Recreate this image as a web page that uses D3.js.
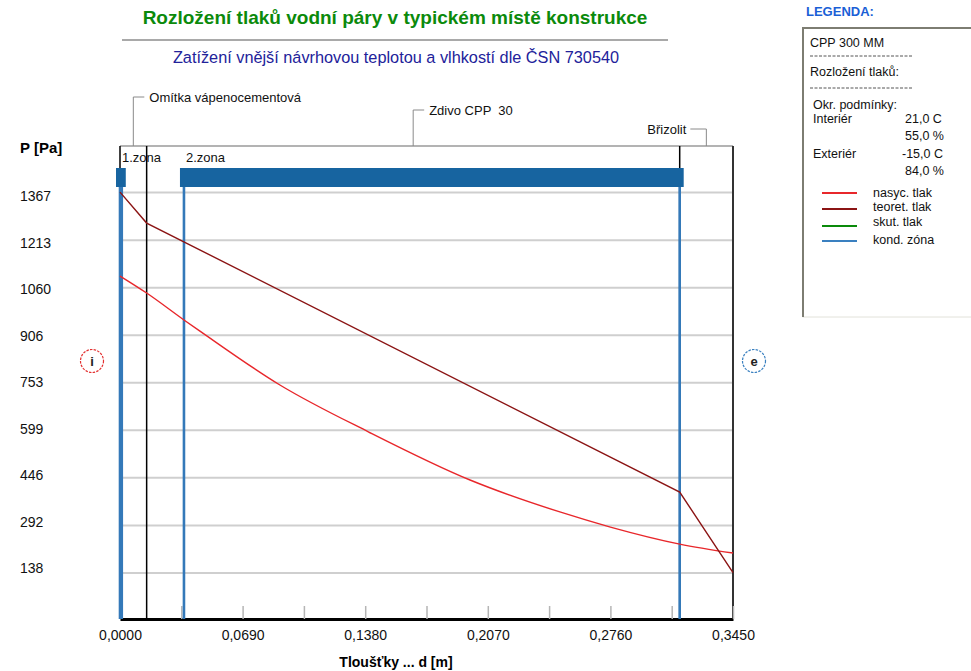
<!DOCTYPE html>
<html>
<head>
<meta charset="utf-8">
<script src="https://cdn.jsdelivr.net/npm/d3@7"></script>
<style>
  body { margin: 0; background: #fff; }
  svg { font-family: "Liberation Sans", Arial, sans-serif; }
</style>
</head>
<body>
<div id="chart"></div>
<script>
// Data
var layerNames = ["Omítka vápenocementová", "Zdivo CPP  30", "Břizolit"];
var layerBounds = [0, 0.015, 0.315, 0.345];

var zoneNames = ["1.zona", "2.zona"];
var zoneStart = [0, 0.036];
var zoneEnd = [0.001, 0.315];

// nasyc. tlak (saturated pressure)
var satX = [0, 0.015, 0.036, 0.045, 0.090, 0.140, 0.197, 0.248, 0.276, 0.315, 0.345];
var satP = [1096, 1041, 954, 918, 744, 592, 437, 333, 285, 230, 201];

// teoret. tlak (theoretical partial pressure)
var teoX = [0, 0.015, 0.315, 0.345];
var teoP = [1367, 1267, 398, 138];

var yTicks = [138, 292, 446, 599, 753, 906, 1060, 1213, 1367];
var xTicks = [0, 0.0345, 0.069, 0.1035, 0.138, 0.1725, 0.207, 0.2415, 0.276, 0.3105, 0.345];

var legendNames = ["nasyc. tlak", "teoret. tlak", "skut. tlak", "kond. zóna"];
var legendColors = ["#e8272b", "#8b1414", "#0a8a0a", "#3a80c0"];

var svgWidth = 971;
var svgHeight = 671;

var svg = d3.select("#chart")
  .append("svg")
  .attr("width", svgWidth)
  .attr("height", svgHeight);

// plot area
var pLeft = 120, pRight = 733, pTop = 146, pBottom = 619;

var xScale = d3.scaleLinear()
  .domain([0, 0.345])
  .range([pLeft, pRight]);

var yScale = d3.scaleLinear()
  .domain([-12, 1516])
  .range([pBottom, pTop]);

// the program places the value labels on a slightly tighter grid
var yLabelScale = d3.scaleLinear()
  .domain([138, 1367])
  .range([568, 196]);

// Titles
svg.append("text")
  .attr("x", 395).attr("y", 24)
  .attr("text-anchor", "middle")
  .style("font-size", "19px")
  .style("font-weight", "bold")
  .attr("fill", "#0b8a0b")
  .text("Rozložení tlaků vodní páry v typickém místě konstrukce");

svg.append("line")
  .attr("x1", 122).attr("x2", 668)
  .attr("y1", 40).attr("y2", 40)
  .attr("stroke", "#8c8c8c")
  .attr("stroke-width", 1.5);

svg.append("text")
  .attr("x", 396).attr("y", 63)
  .attr("text-anchor", "middle")
  .style("font-size", "16.3px")
  .attr("fill", "#22229a")
  .text("Zatížení vnější návrhovou teplotou a vlhkostí dle ČSN 730540");

// Grid + y labels
var leftAxis = d3.axisLeft(yScale)
  .tickValues(yTicks)
  .tickSize(-(pRight - pLeft))
  .tickFormat(d3.format("d"));

var yAxisG = svg.append("g")
  .attr("transform", `translate(${pLeft}, 0)`)
  .call(leftAxis);

yAxisG.select(".domain").remove();
yAxisG.selectAll(".tick line")
  .attr("stroke", "#cfcfcf")
  .attr("stroke-width", 2);
yAxisG.selectAll(".tick text")
  .attr("x", 20 - pLeft)
  .attr("y", d => yLabelScale(d) - yScale(d))
  .attr("dy", "0.35em")
  .attr("text-anchor", "start")
  .attr("fill", "#111")
  .style("font-size", "14px");

svg.append("text")
  .attr("x", 20).attr("y", 153)
  .style("font-size", "15px")
  .style("font-weight", "bold")
  .text("P [Pa]");

// top border and right border
svg.append("line")
  .attr("x1", pLeft).attr("x2", pRight)
  .attr("y1", pTop).attr("y2", pTop)
  .attr("stroke", "#9a9a9a")
  .attr("stroke-width", 1.5);

svg.append("line")
  .attr("x1", pRight).attr("x2", pRight)
  .attr("y1", pTop).attr("y2", pBottom)
  .attr("stroke", "#333")
  .attr("stroke-width", 2);

// Bottom axis
var bottomAxis = d3.axisBottom(xScale)
  .tickValues(xTicks)
  .tickSizeInner(-13)
  .tickSizeOuter(0)
  .tickPadding(11)
  .tickFormat(function(d, i) {
    return i % 2 === 0 ? d3.format(".4f")(d).replace(".", ",") : "";
  });

var xAxisG = svg.append("g")
  .attr("transform", `translate(0, ${pBottom})`)
  .call(bottomAxis);

xAxisG.select(".domain")
  .attr("stroke", "#000")
  .attr("stroke-width", 3);
xAxisG.selectAll(".tick line")
  .attr("stroke", "#b5b5b5")
  .attr("stroke-width", 1.5);
xAxisG.selectAll(".tick text")
  .attr("fill", "#111")
  .style("font-size", "14px");

svg.append("text")
  .attr("x", 396).attr("y", 667)
  .attr("text-anchor", "middle")
  .style("font-size", "14px")
  .style("font-weight", "bold")
  .text("Tloušťky ... d [m]");

// Layer boundaries
svg.selectAll(".layerline")
  .data(layerBounds.slice(0, 3))
  .enter()
  .append("line")
  .attr("class", "layerline")
  .attr("x1", d => xScale(d)).attr("x2", d => xScale(d))
  .attr("y1", pTop).attr("y2", pBottom)
  .attr("stroke", "#000")
  .attr("stroke-width", 1.5);

// Layer labels with leaders
var labelY = [97, 110, 129];
layerNames.forEach(function(name, i) {
  var mid = xScale((layerBounds[i] + layerBounds[i + 1]) / 2);
  var toLeft = i === layerNames.length - 1;
  var hx = toLeft ? mid - 16 : mid + 11;
  svg.append("path")
    .attr("d", `M${mid},${pTop} V${labelY[i]} H${hx}`)
    .attr("fill", "none")
    .attr("stroke", "#8a8a8a")
    .attr("stroke-width", 1);
  svg.append("text")
    .attr("x", toLeft ? hx - 4 : hx + 5)
    .attr("y", labelY[i])
    .attr("dy", "0.35em")
    .attr("text-anchor", toLeft ? "end" : "start")
    .style("font-size", "13px")
    .style("white-space", "pre")
    .attr("fill", "#111")
    .text(name);
});

// Condensation zones
zoneNames.forEach(function(name, i) {
  var x1 = xScale(zoneStart[i]), x2 = xScale(zoneEnd[i]);
  svg.append("rect")
    .attr("x", x1 - 4).attr("y", 168)
    .attr("width", x2 - x1 + 8).attr("height", 19)
    .attr("fill", "#1764a0");
  [x1, x2].forEach(function(xx) {
    svg.append("line")
      .attr("x1", xx).attr("x2", xx)
      .attr("y1", 187).attr("y2", pBottom)
      .attr("stroke", "#3479b9")
      .attr("stroke-width", 2.6);
  });
  svg.append("text")
    .attr("x", x1 + 2).attr("y", 157)
    .attr("dy", "0.35em")
    .style("font-size", "13px")
    .attr("fill", "#111")
    .text(name);
});

// Pressure curves
var satLine = d3.line()
  .curve(d3.curveMonotoneX)
  .x(d => xScale(d[0]))
  .y(d => yScale(d[1]));

var teoLine = d3.line()
  .x(d => xScale(d[0]))
  .y(d => yScale(d[1]));

svg.append("path")
  .datum(d3.zip(satX, satP))
  .attr("d", satLine)
  .attr("fill", "none")
  .attr("stroke", legendColors[0])
  .attr("stroke-width", 1.4);

svg.append("path")
  .datum(d3.zip(teoX, teoP))
  .attr("d", teoLine)
  .attr("fill", "none")
  .attr("stroke", legendColors[1])
  .attr("stroke-width", 1.4);

// interior / exterior marks
var sides = [
  { t: "i", x: 92, c: "#e33030" },
  { t: "e", x: 754, c: "#3a80c0" }
];
sides.forEach(function(s) {
  svg.append("circle")
    .attr("cx", s.x).attr("cy", 361).attr("r", 11.5)
    .attr("fill", "none")
    .attr("stroke", s.c)
    .attr("stroke-width", 1.2)
    .attr("stroke-dasharray", "2.5,1.2");
  svg.append("text")
    .attr("x", s.x).attr("y", 361)
    .attr("dy", "0.35em")
    .attr("text-anchor", "middle")
    .style("font-size", "13px")
    .style("font-weight", "bold")
    .attr("fill", "#222")
    .text(s.t);
});

// Legend panel
svg.append("text")
  .attr("x", 806).attr("y", 11)
  .attr("dy", "0.35em")
  .style("font-size", "13px")
  .style("font-weight", "bold")
  .attr("fill", "#1a5fd6")
  .text("LEGENDA:");

svg.append("rect")
  .attr("x", 803).attr("y", 28)
  .attr("width", 180).attr("height", 289)
  .attr("fill", "#fff")
  .attr("stroke", "#e2e2da");
svg.append("path")
  .attr("d", "M803,317 V28 H971")
  .attr("fill", "none")
  .attr("stroke", "#7d7d72")
  .attr("stroke-width", 2);

var legendText = [
  { t: "CPP 300 MM", x: 810, y: 43 },
  { t: "Rozložení tlaků:", x: 810, y: 72 },
  { t: "Okr. podmínky:", x: 813, y: 105 },
  { t: "Interiér", x: 813, y: 119 },
  { t: "21,0 C", x: 905, y: 119 },
  { t: "55,0 %", x: 905, y: 136 },
  { t: "Exteriér", x: 813, y: 154 },
  { t: "-15,0 C", x: 902, y: 154 },
  { t: "84,0 %", x: 905, y: 171 }
];
svg.selectAll(".legtext")
  .data(legendText)
  .enter()
  .append("text")
  .attr("class", "legtext")
  .attr("x", d => d.x).attr("y", d => d.y)
  .attr("dy", "0.35em")
  .style("font-size", "12.5px")
  .attr("fill", "#111")
  .text(d => d.t);

[56, 88].forEach(function(yy) {
  svg.append("line")
    .attr("x1", 810).attr("x2", 913)
    .attr("y1", yy).attr("y2", yy)
    .attr("stroke", "#555")
    .attr("stroke-dasharray", "3,1.5");
});

var legY = [193, 209, 226, 241];
var textY = [193, 207, 222, 240];
legendNames.forEach(function(name, i) {
  svg.append("line")
    .attr("x1", 822).attr("x2", 857)
    .attr("y1", legY[i]).attr("y2", legY[i])
    .attr("stroke", legendColors[i])
    .attr("stroke-width", 2);
  svg.append("text")
    .attr("x", 873).attr("y", textY[i])
    .attr("dy", "0.35em")
    .style("font-size", "12.5px")
    .attr("fill", "#111")
    .text(name);
});
</script>
</body>
</html>
